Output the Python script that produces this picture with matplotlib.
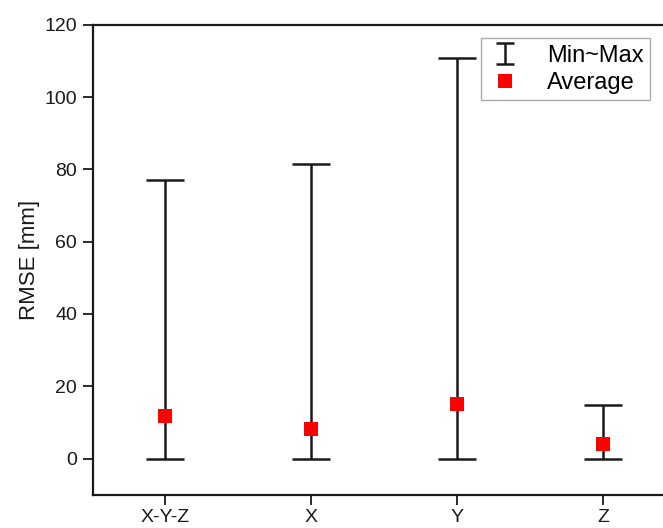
import numpy as np
import matplotlib
matplotlib.use("Agg")
import matplotlib.pyplot as plt
from matplotlib.legend_handler import HandlerErrorbar
from matplotlib.container import ErrorbarContainer
from matplotlib.lines import Line2D

plt.rcParams['font.family'] = ['Liberation Sans', 'DejaVu Sans']

categories = ["X-Y-Z", "X", "Y", "Z"]
rmse_min = [0.0, 0.0, 0.0, 0.0]
rmse_max = [77.0, 81.4, 110.9, 14.9]
rmse_avg = [11.8, 8.3, 15.1, 4.1]
y_ticks = [0, 20, 40, 60, 80, 100, 120]

fig = plt.figure(figsize=(6.63, 5.28), dpi=100)
ax = fig.add_axes([92.5 / 663, 33.3 / 528, (676.4 - 92.5) / 663, (494.7 - 24.7) / 528])

x = np.arange(len(categories))
mn = np.array(rmse_min)
mx = np.array(rmse_max)
mid = (mn + mx) / 2
eb = ax.errorbar(x, mid, yerr=[mid - mn, mx - mid], fmt='none', ecolor='#1a1a1a',
                 elinewidth=1.8, capsize=13.7, capthick=1.8, label='Min~Max', zorder=2)
avg_line, = ax.plot(x, rmse_avg, linestyle='none', marker='s', markersize=10.5,
                    color='#ff0000', markeredgewidth=0, label='Average', zorder=3)

ax.set_xlim(-0.5, 3.5)
ax.set_ylim(-10, 120)
ax.set_xticks(x)
ax.set_xticklabels(categories)
ax.set_yticks(y_ticks)
ax.tick_params(axis='both', direction='out', length=7, width=1.3, labelsize=14,
               colors='#1a1a1a', pad=4)
ax.tick_params(axis='x', pad=3)
for s in ['left', 'bottom', 'top']:
    ax.spines[s].set_linewidth(1.6)
    ax.spines[s].set_color('#1a1a1a')
ax.spines['right'].set_visible(False)

ax.set_ylabel('RMSE [mm]', fontsize=16, color='#1a1a1a', labelpad=3)


class SmallCapHandler(HandlerErrorbar):
    def create_artists(self, *args, **kwargs):
        arts = super().create_artists(*args, **kwargs)
        for a in arts:
            if isinstance(a, Line2D) and a.get_marker() == '_':
                a.set_markersize(13.5)
        return arts


leg = ax.legend(handles=[eb, avg_line], labels=['Min~Max', 'Average'],
                loc='upper right', bbox_to_anchor=(650 / 663, 1 - 38 / 528),
                bbox_transform=fig.transFigure, borderaxespad=0, fontsize=17,
                fancybox=False, edgecolor='#aaaaaa', framealpha=1,
                handler_map={ErrorbarContainer: SmallCapHandler(xerr_size=0.45, yerr_size=0.45)},
                handlelength=1.5, handletextpad=1.0, borderpad=0.28, labelspacing=0.22)
leg.get_frame().set_linewidth(1.0)

fig.savefig('out.png', dpi=100)
